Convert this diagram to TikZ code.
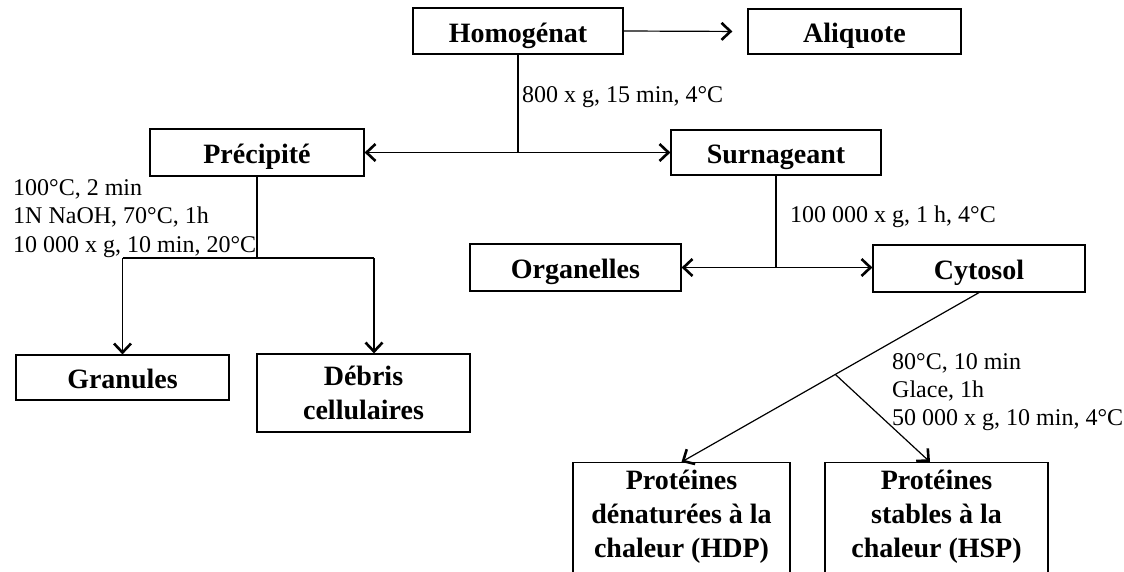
\documentclass[tikz,border=0pt]{standalone}
\usepackage{fontspec}
\setmainfont{Liberation Serif}
\usetikzlibrary{arrows.meta,calc}
\tikzset{
  box/.style={draw, line width=1.2pt, inner xsep=0pt, inner ysep=0pt,
    font=\fontsize{28}{34}\selectfont\bfseries, align=center},
  single/.style={text height=22pt, text depth=0pt},
  lbl/.style={font=\fontsize{24}{28}\selectfont, anchor=base west, inner sep=0pt},
  conn/.style={line width=1.2pt},
  arr/.style={conn, arrows={-Straight Barb[length=9pt,width=17pt,line width=2.6pt]}},
  darr/.style={conn, arrows={Straight Barb[length=9pt,width=17pt,line width=2.6pt]-Straight Barb[length=9pt,width=17pt,line width=2.6pt]}}
}
\begin{document}
\begin{tikzpicture}[x=1pt,y=-1pt]
\useasboundingbox (0,0) rectangle (1124,571);

% boxes
\node[box, single, minimum width=210, minimum height=46] (hom) at (518,31) {Homogénat};
\node[box, single, minimum width=213, minimum height=45] (ali) at (854.5,31.5) {Aliquote};
\node[box, single, minimum width=214, minimum height=47] (pre) at (257,152.5) {Précipité};
\node[box, single, minimum width=210, minimum height=45] (sur) at (776,152.5) {Surnageant};
\node[box, single, minimum width=211, minimum height=47] (org) at (575.5,267.5) {Organelles};
\node[box, single, minimum width=212, minimum height=47] (cyt) at (979,268.5) {Cytosol};
\node[box, single, minimum width=213, minimum height=45] (gra) at (122.5,377.5) {Granules};
\node[box, minimum width=213, minimum height=78] (deb) at (363.5,393) {Débris\\cellulaires};
\node[box, anchor=north, minimum width=217, inner ysep=7pt] (hdp) at (681.5,462)
  {Protéines\\dénaturées à la\\chaleur (HDP)\rule[-30pt]{0pt}{30pt}};
\node[box, anchor=north, minimum width=223, inner ysep=7pt] (hsp) at (936.5,462)
  {Protéines\\stables à la\\chaleur (HSP)\rule[-30pt]{0pt}{30pt}};

% Homogenat
\draw[arr, shorten >=15pt] (hom.east) -- (ali.west);
\draw[conn] (hom.south) -- (hom.south |- pre.east);
\draw[darr] (pre.east) -- (sur.west);
\node[lbl] (l1) at (522,102) {800 x g, 15 min, 4°C};

% Precipite
\coordinate (pl) at (122.5,258);
\coordinate (pr) at (374,258);
\draw[conn] (pre.south) -- (pre.south |- pl);
\draw[conn] (pl) -- (pr);
\draw[arr] (pl) -- (gra.north);
\draw[arr] (pr) -- (pr |- deb.north);
\node[lbl] (l2a) at (13,195) {100°C, 2 min};
\node[lbl] (l2b) at (13,223) {1N NaOH, 70°C, 1h};
\node[lbl] (l2c) at (13,252) {10 000 x g, 10 min, 20°C};

% Surnageant
\draw[conn] (sur.south) -- (sur.south |- org.east);
\draw[darr] (org.east) -- (org.east -| cyt.west);
\node[lbl] (l3) at (790,222) {100 000 x g, 1 h, 4°C};

% Cytosol
\coordinate (tiph) at (930,462);
\coordinate (j3) at ($(cyt.south)!0.483!(hdp.north)$);
\draw[arr] (cyt.south) -- (hdp.north);
\draw[arr] (j3) -- (tiph);
\node[lbl] (l4a) at (892,369) {80°C, 10 min};
\node[lbl] (l4b) at (892,397) {Glace, 1h};
\node[lbl] (l4c) at (892,425) {50 000 x g, 10 min, 4°C};
\end{tikzpicture}
\end{document}
